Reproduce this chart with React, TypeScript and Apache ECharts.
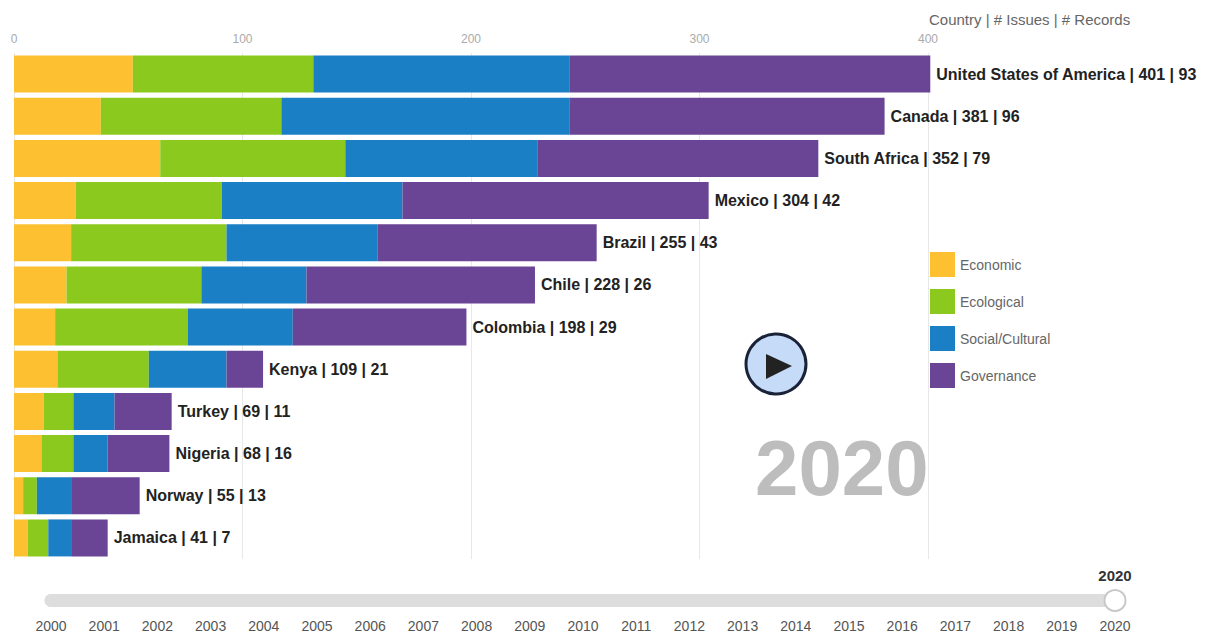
import React, { useEffect, useRef } from "react";
import * as echarts from "echarts";

const countries = ["United States of America","Canada","South Africa","Mexico","Brazil","Chile","Colombia","Kenya","Turkey","Nigeria","Norway","Jamaica"];
const records = [93,96,79,42,43,26,29,21,11,16,13,7];
const economic = [52,38,64,27,25,23,18,19,13,12,4,6];
const ecological = [79,79,81,64,68,59,58,40,13,14,6,9];
const social = [112,126,84,79,66,46,46,34,18,15,15,10];
const governance = [158,138,123,134,96,100,76,16,25,27,30,16];
const years = ["2000","2001","2002","2003","2004","2005","2006","2007","2008","2009","2010","2011","2012","2013","2014","2015","2016","2017","2018","2019","2020"];
const currentYear = "2020";
const FONT = "'Liberation Sans', Arial, sans-serif";

export default function App() {
  const ref = useRef<HTMLDivElement>(null);
  useEffect(() => {
    const chart = echarts.init(ref.current!, undefined, { renderer: "svg" });
    const mk = (name: string, data: number[], color: string) => ({
      name, type: "bar", stack: "total", data, barWidth: 37, clip: false,
      itemStyle: { color }, emphasis: { disabled: true },
    });
    const totals = countries.map((_, i) => economic[i] + ecological[i] + social[i] + governance[i]);
    const yearLabel = { color: "#555", fontSize: 14, fontFamily: FONT };
    chart.setOption({
      animation: false,
      textStyle: { fontFamily: FONT },
      grid: { left: 14, right: 277, top: 53, bottom: 74, containLabel: false },
      xAxis: {
        type: "value", position: "top", min: 0, max: 400, interval: 100,
        axisLine: { show: false }, axisTick: { show: false },
        axisLabel: { color: "#aaa", fontSize: 12, margin: 8, fontFamily: FONT },
        splitLine: { show: true, lineStyle: { color: "#e8e8e8", width: 1 } },
      },
      yAxis: { type: "category", inverse: true, data: countries, axisLine: { show: false }, axisTick: { show: false }, axisLabel: { show: false } },
      legend: {
        left: 925, top: 247, orient: "vertical", itemWidth: 25, itemHeight: 25, itemGap: 12, icon: "rect",
        selectedMode: false, textStyle: { color: "#666", fontSize: 14, fontFamily: FONT },
        data: ["Economic","Ecological","Social/Cultural","Governance"],
      },
      timeline: {
        axisType: "category", data: years, currentIndex: years.indexOf(currentYear), autoPlay: false,
        left: 51, right: 90, bottom: 0, height: 44, padding: 0,
        controlStyle: { show: false }, symbol: "none",
        lineStyle: { color: "#ddd", width: 13, cap: "round" },
        progress: { lineStyle: { color: "#ddd" }, itemStyle: { color: "#ddd" }, label: yearLabel },
        emphasis: { label: yearLabel },
        itemStyle: { color: "#ddd", borderWidth: 0 },
        checkpointStyle: { symbol: "circle", symbolSize: 21, color: "#fff", borderColor: "#c8c8c8", borderWidth: 2, animation: false },
        label: { ...yearLabel, interval: 0, position: 18 },
      },
      series: [
        mk("Economic", economic, "#FDC030"),
        mk("Ecological", ecological, "#8CC91E"),
        mk("Social/Cultural", social, "#1A7FC4"),
        {
          ...mk("Governance", governance, "#6A4595"),
          label: {
            show: true, position: "right", distance: 6, color: "#222", fontSize: 16, fontWeight: "bold", fontFamily: FONT,
            formatter: (p: any) => `${countries[p.dataIndex]} | ${totals[p.dataIndex]} | ${records[p.dataIndex]}`,
          },
        },
      ],
      graphic: [
        { type: "text", x: 929, y: 12, style: { text: "Country | # Issues | # Records", fill: "#666", font: `15px ${FONT}` } },
        { type: "text", x: 755, y: 429, style: { text: currentYear, fill: "#bdbdbd", font: `bold 78px ${FONT}` } },
        { type: "text", x: 1115, y: 568, style: { text: currentYear, fill: "#333", font: `bold 15px ${FONT}`, textAlign: "center" } },
        { type: "circle", shape: { cx: 776, cy: 364, r: 30 }, style: { fill: "#C6DBF7", stroke: "#1a2238", lineWidth: 3 } },
        { type: "polygon", shape: { points: [[766,354],[792,366],[766,379]] }, style: { fill: "#222" } },
      ],
    });
    return () => chart.dispose();
  }, []);
  return <div ref={ref} style={{ position: "fixed", left: 0, top: 0, width: 1205, height: 633, background: "#fff" }} />;
}
